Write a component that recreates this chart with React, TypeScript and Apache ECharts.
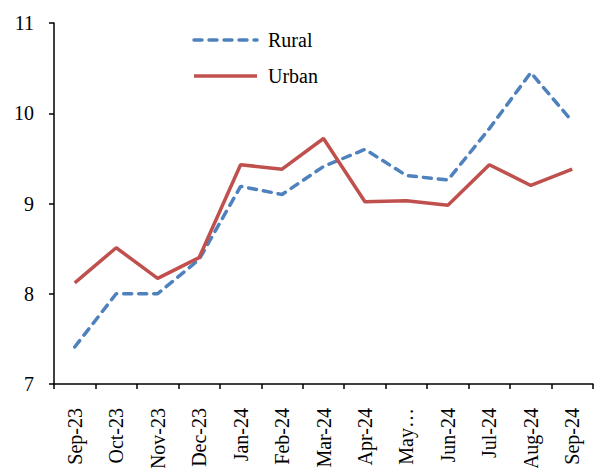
import React, { useEffect, useRef } from "react";
import * as echarts from "echarts";

const categories = ["Sep-23","Oct-23","Nov-23","Dec-23","Jan-24","Feb-24","Mar-24","Apr-24","May-24","Jun-24","Jul-24","Aug-24","Sep-24"];
const rural = [7.41, 8.0, 8.0, 8.38, 9.19, 9.1, 9.41, 9.6, 9.31, 9.26, 9.83, 10.45, 9.91];
const urban = [8.12, 8.51, 8.17, 8.4, 9.43, 9.38, 9.72, 9.02, 9.03, 8.98, 9.43, 9.2, 9.38];
const seriesNames = ["Rural", "Urban"];
const yTicks = { min: 7, max: 11, interval: 1 };

const FONT = "'Liberation Serif', 'Times New Roman', serif";
const BLUE = "#4F81BD";
const RED = "#C0504D";
const DASH = [8, 7];

export default function App() {
  const ref = useRef<HTMLDivElement>(null);
  useEffect(() => {
    if (!ref.current) return;
    const chart = echarts.init(ref.current, undefined, { renderer: "svg" });
    const legendRow = (name: string, y: number, color: string, dashed: boolean) => ({
      type: "group",
      children: [
        {
          type: "line",
          shape: { x1: 194, y1: y, x2: 257, y2: y },
          style: { stroke: color, lineWidth: 3.5, lineDash: dashed ? DASH : null, lineCap: dashed ? "round" : "butt" },
        },
        {
          type: "text",
          x: 268,
          y: y,
          style: { text: name, fontFamily: FONT, fontSize: 20, fill: "#000", verticalAlign: "middle", align: "left" },
        },
      ],
    });
    chart.setOption({
      animation: false,
      backgroundColor: "#ffffff",
      textStyle: { fontFamily: FONT },
      grid: { left: 54, right: 2, top: 23, bottom: 84, containLabel: false, outerBoundsMode: "none" },
      graphic: [legendRow(seriesNames[0], 40, BLUE, true), legendRow(seriesNames[1], 76, RED, false)],
      xAxis: {
        type: "category",
        data: categories,
        boundaryGap: true,
        axisLine: { lineStyle: { color: "#000", width: 1.5 } },
        axisTick: { show: true, length: 5, alignWithLabel: false, lineStyle: { color: "#000", width: 1.5 } },
        axisLabel: {
          rotate: 90,
          interval: 0,
          margin: 24,
          fontFamily: FONT,
          fontSize: 20,
          color: "#000",
          formatter: (v: string) => (v === "May-24" ? "May\u2026" : v),
        },
      },
      yAxis: {
        type: "value",
        min: yTicks.min,
        max: yTicks.max,
        interval: yTicks.interval,
        splitLine: { show: false },
        axisLine: { show: true, lineStyle: { color: "#000", width: 1.5 } },
        axisTick: { show: true, length: 5, lineStyle: { color: "#000", width: 1.5 } },
        axisLabel: { fontFamily: FONT, fontSize: 20, color: "#000", margin: 20 },
      },
      series: [
        {
          name: seriesNames[0],
          type: "line",
          data: rural,
          symbol: "none",
          lineStyle: { color: BLUE, width: 3.5, type: DASH, cap: "round" },
          itemStyle: { color: BLUE },
        },
        {
          name: seriesNames[1],
          type: "line",
          data: urban,
          symbol: "none",
          lineStyle: { color: RED, width: 3.5 },
          itemStyle: { color: RED },
        },
      ],
    });
    return () => chart.dispose();
  }, []);
  return <div ref={ref} style={{ position: "absolute", left: 0, top: 0, width: 595, height: 468 }} />;
}
